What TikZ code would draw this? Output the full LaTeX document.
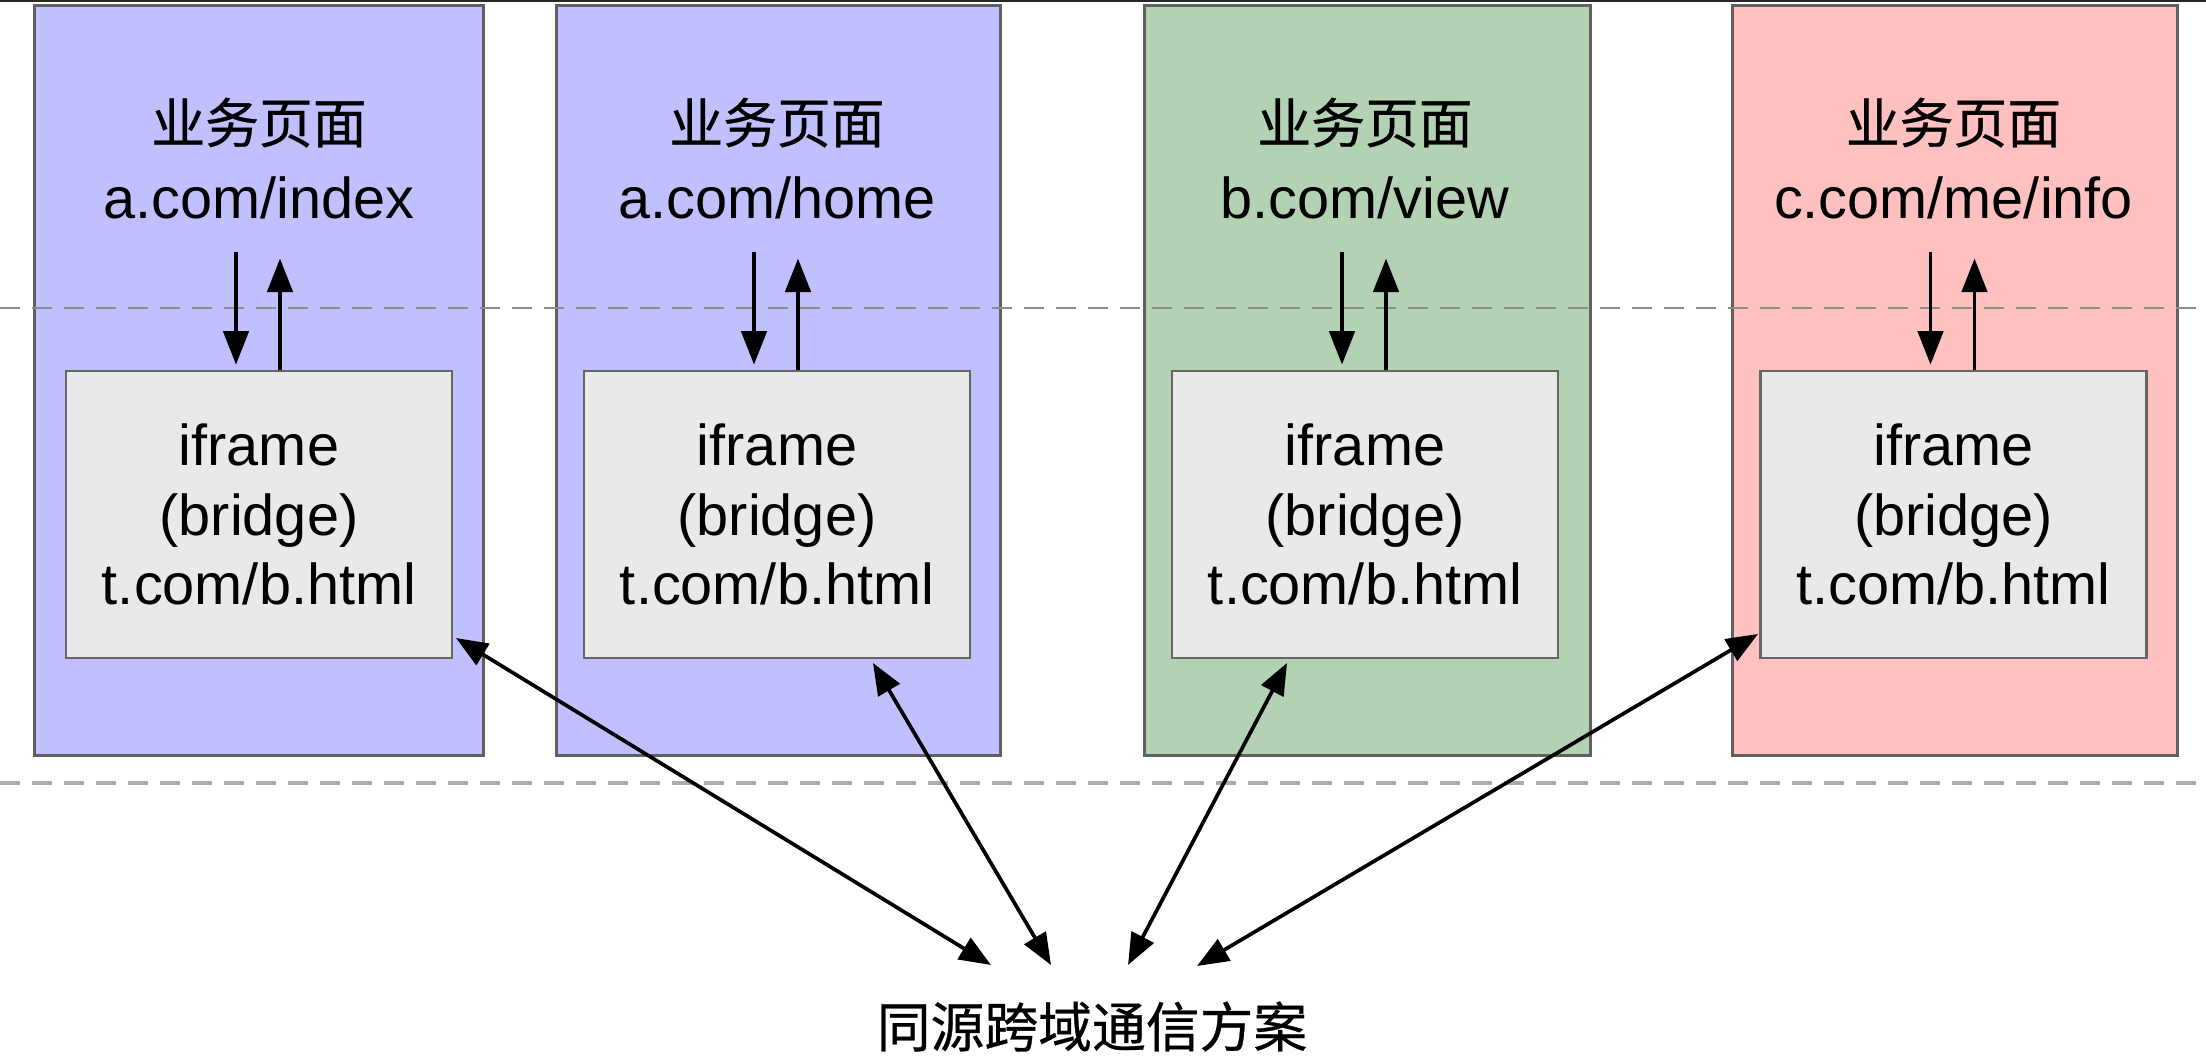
\documentclass[tikz,border=0pt]{standalone}
\usepackage{fontspec}
\setmainfont{Liberation Sans}
\newfontfamily\cjk{Noto Sans CJK SC}[FakeBold=0.6]
\usetikzlibrary{arrows.meta,calc}
\definecolor{lav}{RGB}{192,192,255}
\definecolor{grn}{RGB}{179,209,179}
\definecolor{pnk}{RGB}{255,192,192}
\definecolor{inn}{RGB}{233,233,233}
\tikzset{
  outerbox/.style={draw=gray!75!black, line width=0.9pt, minimum width=#1, minimum height=7.49cm, inner sep=0pt},
  innerbox/.style={draw=gray!80!black, line width=0.75pt, fill=inn, minimum width=3.86cm, minimum height=2.87cm, inner sep=0pt, align=center, font=\fontsize{16.4pt}{19.7pt}\selectfont},
  title/.style={align=center, inner sep=0pt},
  arr/.style={line width=1pt, -{Triangle[length=9.5pt,width=7.2pt]}},
  biarr/.style={line width=1.05pt, {Triangle[length=9pt,width=7pt]}-{Triangle[length=9pt,width=7pt]}},
  sep/.style={dashed, dash pattern=on 5.7pt off 3.4pt, line width=0.7pt, draw=gray!90},
}
\begin{document}
\begin{tikzpicture}[x=0.01cm, y=-0.01cm]
\useasboundingbox (0,0) rectangle (2206,1064);
\fill[white] (0,0) rectangle (2206,1064);
\draw[line width=0.6pt, black!85] (0,1) -- (2206,1) coordinate (topline);

% outer boxes
\node[outerbox=4.48cm, fill=lav] (o1) at (259,380.5) {};
\node[outerbox=4.43cm, fill=lav] (o2) at (778.5,380.5) {};
\node[outerbox=4.45cm, fill=grn] (o3) at (1367.5,380.5) {};
\node[outerbox=4.44cm, fill=pnk] (o4) at (1955,380.5) {};

% dashed separators
\coordinate (dl1) at (0,308);
\coordinate (dr1) at (2206,308);
\coordinate (dl2) at (0,783);
\coordinate (dr2) at (2206,783);
\draw[sep] (dl1) -- (dr1);
\draw[sep, line width=0.9pt, draw=gray!65] (dl2) -- (dr2);

% inner boxes
\node[innerbox] (i1) at (259,514.5) {iframe\\(bridge)\\t.com/b.html};
\node[innerbox] (i2) at (777,514.5) {iframe\\(bridge)\\t.com/b.html};
\node[innerbox] (i3) at (1365,514.5) {iframe\\(bridge)\\t.com/b.html};
\node[innerbox] (i4) at (1953.5,514.5) {iframe\\(bridge)\\t.com/b.html};

% titles
\foreach \n/\x/\u in {1/259/a.com\slash index, 2/777/a.com\slash home, 3/1365/b.com\slash view, 4/1953.5/c.com\slash me\slash info}{
  \node[title, anchor=base] (c\n) at (\x,143) {{\cjk\fontsize{15.3pt}{18pt}\selectfont 业务页面}};
  \node[title, anchor=base] (u\n) at (\x,219) {\fontsize{16.4pt}{19.7pt}\selectfont \u};
}

% small arrows
\foreach \n in {1,2,3,4}{
  \draw[arr] ($(i\n.north)+(-23,-118)$) -- ($(i\n.north)+(-23,-5)$);
  \draw[arr] ($(i\n.north)+(21,0)$) -- ($(i\n.north)+(21,-111)$);
}

% bottom label
\node[title, anchor=base] (sol) at (1092,1047) {{\cjk\fontsize{15.3pt}{18pt}\selectfont 同源跨域通信方案}};

\coordinate (a1) at (456,638);
\coordinate (b1) at (991,965);
\coordinate (a2) at (873,663);
\coordinate (b2) at (1051,965);
\coordinate (a3) at (1287,663);
\coordinate (b3) at (1128,965);
\coordinate (a4) at (1758,634);
\coordinate (b4) at (1197,966);
\draw[biarr] (a1) -- (b1);
\draw[biarr] (a2) -- (b2);
\draw[biarr] (a3) -- (b3);
\draw[biarr] (a4) -- (b4);
\end{tikzpicture}
\end{document}
